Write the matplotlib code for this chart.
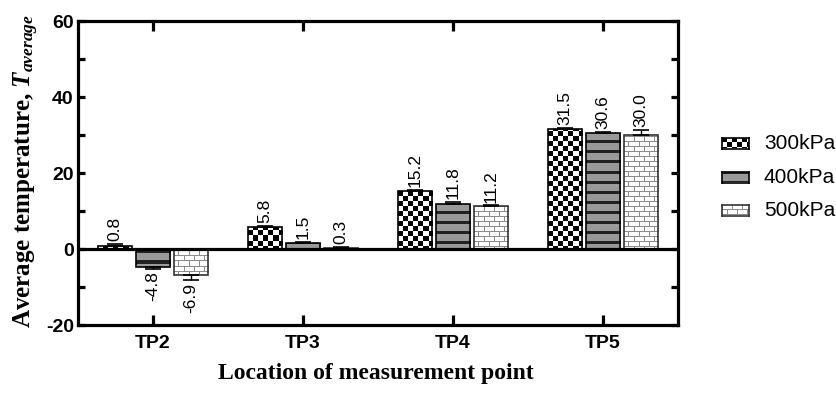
import numpy as np
import matplotlib
matplotlib.use("Agg")
import matplotlib.pyplot as plt

plt.rcParams["font.family"] = ["Liberation Sans", "DejaVu Sans"]
plt.rcParams["mathtext.fontset"] = "custom"
plt.rcParams["mathtext.rm"] = "Liberation Serif:bold"
plt.rcParams["mathtext.it"] = "Liberation Serif:italic:bold"

# data
locations = ["TP2", "TP3", "TP4", "TP5"]
pressures = ["300kPa", "400kPa", "500kPa"]
t_300 = [0.8, 5.8, 15.2, 31.5]
t_400 = [-4.8, 1.5, 11.8, 30.6]
t_500 = [-6.9, 0.3, 11.2, 30.0]
err_300 = [0.5, 0.3, 0.4, 0.3]
err_400 = [0.4, 0.3, 0.5, 0.3]
err_500 = [1.3, 0.2, 0.3, 1.4]
y_ticks = [-20, 0, 20, 40, 60]

W, H = 837, 396
DPI = 100


def checker(h, w):
    yy, xx = np.mgrid[0:h, 0:w]
    m = ((yy // 5 + xx // 5) % 2) == 0
    img = np.ones((h, w, 3))
    img[m] = 0.0
    return img


def stripes(h, w):
    yy, xx = np.mgrid[0:h, 0:w]
    img = np.ones((h, w, 3)) * 0.60
    img[(yy % 10) < 3] = 0.13
    return img


def bricks(h, w):
    yy, xx = np.mgrid[0:h, 0:w]
    row = yy // 5
    line = (yy % 5 == 0) | (((xx + (row % 2) * 5) % 10) == 0)
    img = np.ones((h, w, 3))
    img[line] = 0.55
    return img


patterns = [checker, stripes, bricks]
edge_cols = ["black", "black", "#333333"]

fig = plt.figure(figsize=(W / DPI, H / DPI), dpi=DPI)
ax_l, ax_r, ax_t, ax_b = 78, 678, 21, 325
ax = fig.add_axes([ax_l / W, 1 - ax_b / H, (ax_r - ax_l) / W, (ax_b - ax_t) / H])

xlim = (-0.5, 3.5)
ylim = (-20, 60)
ax.set_xlim(xlim)
ax.set_ylim(ylim)

x = np.arange(len(locations))
width = 0.232
offset = 0.253
series = [t_300, t_400, t_500]
errs = [err_300, err_400, err_500]

px_w = ax_r - ax_l
px_h = ax_b - ax_t

for i, (vals, ee) in enumerate(zip(series, errs)):
    xs = x + (i - 1) * offset
    bars = ax.bar(xs, vals, width, facecolor="none", edgecolor=edge_cols[i],
                  linewidth=1.2, zorder=3)
    pat = patterns[i](px_h, px_w)
    for b in bars:
        im = ax.imshow(pat, extent=(xlim[0], xlim[1], ylim[0], ylim[1]),
                       interpolation="nearest", aspect="auto", zorder=2)
        im.set_clip_path(b)
    lower = [e if v < 0 else 0 for v, e in zip(vals, ee)]
    upper = [e if v >= 0 else 0 for v, e in zip(vals, ee)]
    ax.errorbar(xs, vals, yerr=[lower, upper], fmt="none", ecolor="black",
                elinewidth=1.0, capsize=6, capthick=1.2, zorder=4)
    for xv, v, e in zip(xs, vals, ee):
        if v >= 0:
            ax.annotate(f"{v:.1f}", (xv, v + e), xytext=(0, 2), textcoords="offset points",
                        rotation=90, ha="center", va="bottom", fontsize=12.5)
        else:
            ax.annotate(f"{v:.1f}", (xv, v - e), xytext=(0, -2), textcoords="offset points",
                        rotation=90, ha="center", va="top", fontsize=12.5)

ax.set_xlim(xlim)
ax.set_ylim(ylim)
ax.axhline(0, color="black", linewidth=2.3, zorder=5)

for s in ax.spines.values():
    s.set_linewidth(2.3)

ax.set_yticks(y_ticks)
ax.set_yticks(np.arange(-20, 61, 10), minor=True)
ax.set_yticklabels([str(t) for t in y_ticks], fontweight="bold", fontsize=14)
ax.set_xticks(x)
ax.set_xticklabels(locations, fontweight="bold", fontsize=14)
ax.tick_params(axis="y", which="both", direction="in", length=5, width=2.3,
               right=True, pad=3)
ax.tick_params(axis="x", direction="in", length=7, width=2.3, top=True, pad=7)

fig.text(376 / W, 1 - 373 / H, "Location of measurement point", ha="center", va="center",
         family="Liberation Serif", fontweight="bold", fontsize=17)
fig.text(26 / W, 1 - 171 / H, r"Average temperature, $T_{average}$", ha="center", va="center",
         rotation=90, family="Liberation Serif", fontweight="bold", fontsize=18)

# legend drawn by hand
leg_y = [143, 177, 210]
for i, name in enumerate(pressures):
    sw = fig.add_axes([722 / W, 1 - (leg_y[i] + 5.5) / H, 27 / W, 11 / H])
    sw.imshow(patterns[i](11, 27), interpolation="nearest", aspect="auto")
    sw.set_xticks([])
    sw.set_yticks([])
    for s in sw.spines.values():
        s.set_linewidth(1.2)
        s.set_color(edge_cols[i])
    fig.text(764 / W, 1 - leg_y[i] / H, name, ha="left", va="center", fontsize=15)

fig.savefig("out.png", dpi=DPI)
